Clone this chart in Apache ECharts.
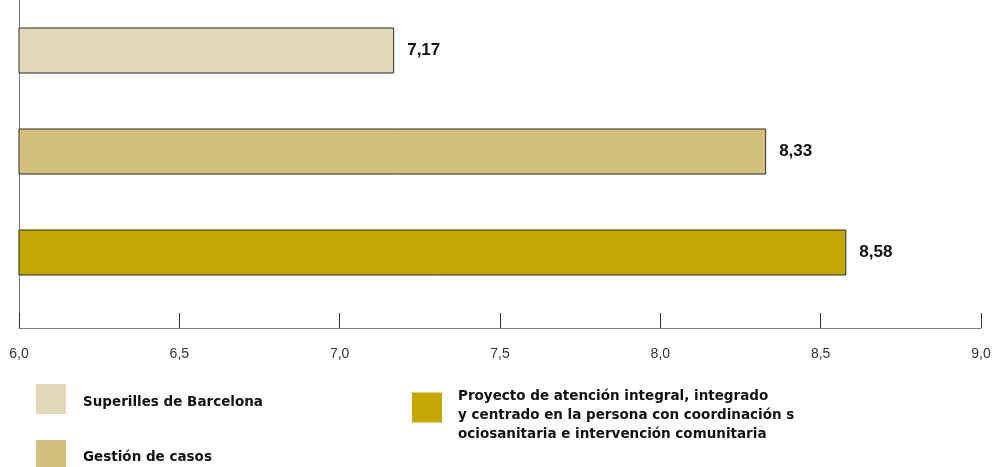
<!DOCTYPE html>
<html>
<head>
<meta charset="utf-8">
<script src="https://cdn.jsdelivr.net/npm/echarts@6/dist/echarts.min.js"></script>
<style>
  html, body { margin: 0; padding: 0; background: #ffffff; }
  #chart { width: 1001px; height: 467px; }
</style>
</head>
<body>
<div id="chart"></div>
<script>
// Programme names (legend / categories) and their scores
const categories = [
  'Superilles de Barcelona',
  'Gestión de casos',
  'Proyecto de atención integral, integrado y centrado en la persona con coordinación sociosanitaria e intervención comunitaria'
];
const legendLabels = [
  'Superilles de Barcelona',
  'Gestión de casos',
  'Proyecto de atención integral, integrado\ny centrado en la persona con coordinación s\nociosanitaria e intervención comunitaria'
];
const scores = [7.17, 8.33, 8.58];
const colors = ['#e2d8b8', '#d4c07c', '#c4a700'];
const axisMin = 6.0;
const axisMax = 9.0;
const axisStep = 0.5;

const fmt = v => v.toFixed(2).replace('.', ',');
const FONT = 'Liberation Sans';
const LEGEND_FONT = 'DejaVu Sans';

// One series per programme so each gets its own legend entry;
// bars overlap on their own category row.
const series = categories.map((name, i) => ({
  name: name,
  type: 'bar',
  xAxisIndex: 1,
  yAxisIndex: 1,
  barWidth: 46,
  barGap: '-100%',
  data: categories.map((c, j) => (j === i ? scores[i] : '-')),
  itemStyle: { color: colors[i], borderColor: '#2b2b2b', borderWidth: 1 },
  label: {
    show: true,
    position: 'right',
    distance: 13,
    fontFamily: FONT,
    fontWeight: 'bold',
    fontSize: 17,
    color: '#111',
    formatter: p => fmt(p.value)
  },
  emphasis: { disabled: true }
}));

// Legend text is nudged below the swatch centre with an empty spacer line.
const legendText = {
  fontFamily: LEGEND_FONT,
  fontWeight: 'bold',
  fontSize: 13.5,
  lineHeight: 19,
  color: '#111'
};
const legends = [
  { left: 36, top: 384, idx: 0, shift: 6, pad: 12 },
  { left: 36, top: 440, idx: 1, shift: 4, pad: 12 },
  { left: 412, top: 371, idx: 2, shift: 16, pad: 11 }
].map(l => ({
  left: l.left,
  top: l.top,
  padding: 0,
  orient: 'vertical',
  icon: 'rect',
  itemWidth: 30,
  itemHeight: 30,
  selectedMode: false,
  itemStyle: { borderWidth: 0 },
  data: [categories[l.idx]],
  formatter: n => '{sp| }\n' + legendLabels[categories.indexOf(n)]
    .split('\n').map(s => '{t|' + s + '}').join('\n'),
  textStyle: {
    ...legendText,
    padding: [0, 0, 0, l.pad],
    rich: {
      sp: { fontSize: 1, lineHeight: l.shift, height: l.shift },
      t: { ...legendText }
    }
  }
}));

const chart = echarts.init(document.getElementById('chart'), null, { renderer: 'canvas' });
chart.setOption({
  animation: false,
  backgroundColor: '#ffffff',
  legend: legends,
  grid: [
    // axis frame
    { left: 19, right: 20, top: 0, height: 328 },
    // bar area
    { left: 19, right: 20, top: 0, height: 303 }
  ],
  xAxis: [
    {
      gridIndex: 0,
      type: 'value',
      min: axisMin,
      max: axisMax,
      interval: axisStep,
      axisLine: { show: true, lineStyle: { color: '#7a7a7a', width: 1 } },
      axisTick: { show: true, inside: true, length: 15, lineStyle: { color: '#333' } },
      splitLine: { show: false },
      axisLabel: {
        margin: 19,
        fontFamily: FONT,
        fontSize: 14,
        color: '#333',
        formatter: v => v.toFixed(1).replace('.', ',')
      }
    },
    {
      gridIndex: 1,
      type: 'value',
      min: axisMin,
      max: axisMax,
      show: false
    }
  ],
  yAxis: [
    {
      gridIndex: 0,
      type: 'value',
      min: 0,
      max: 1,
      axisLine: { show: true, lineStyle: { color: '#7a7a7a', width: 1 } },
      axisTick: { show: false },
      axisLabel: { show: false },
      splitLine: { show: false }
    },
    {
      gridIndex: 1,
      type: 'category',
      inverse: true,
      data: categories,
      show: false
    }
  ],
  series: series
});
</script>
</body>
</html>
